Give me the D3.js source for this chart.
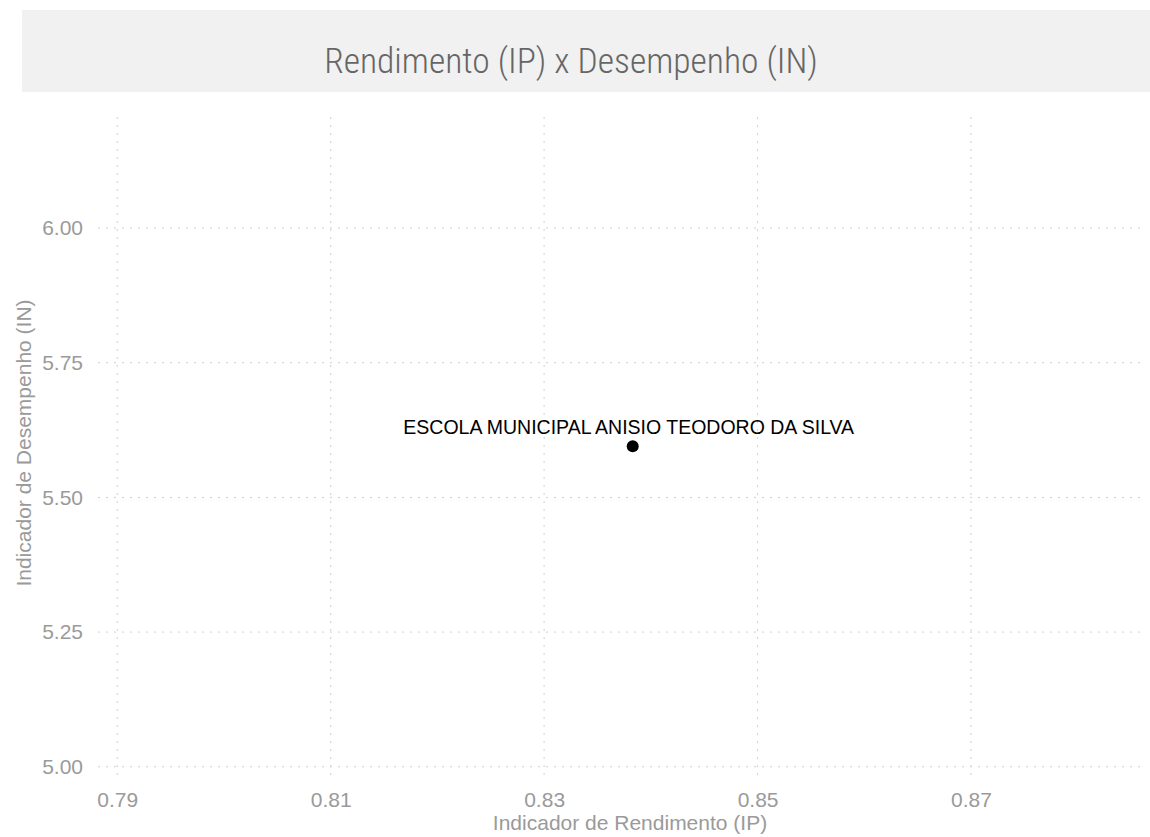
<!DOCTYPE html>
<html><head><meta charset="utf-8">
<script src="https://cdn.jsdelivr.net/npm/d3@7"></script>
<style>body{margin:0;background:#fff;}svg{display:block;}</style>
</head><body>
<script>
const titleText = "Rendimento (IP) x Desempenho (IN)";
const xTitle = "Indicador de Rendimento (IP)";
const yTitle = "Indicador de Desempenho (IN)";
const schools = ["ESCOLA MUNICIPAL ANISIO TEODORO DA SILVA"];
const ipValues = [0.8383];
const inValues = [5.595];
const xTicks = [0.79, 0.81, 0.83, 0.85, 0.87];
const yTicks = [5.00, 5.25, 5.50, 5.75, 6.00];

const W = 1150, H = 837;
const svg = d3.select("body").append("svg").attr("width", W).attr("height", H);

svg.append("rect").attr("x", 22).attr("y", 10).attr("width", W - 22).attr("height", 82).attr("fill", "#f1f1f1");
svg.append("text").attr("x", 571).attr("y", 73).attr("text-anchor", "middle")
  .attr("font-family", "'Roboto Condensed', 'Liberation Sans Narrow', 'Arial Narrow', sans-serif")
  .attr("font-size", 35.5).attr("font-weight", 300).attr("fill", "#666").text(titleText);

const x = d3.scaleLinear().domain([0.7882, 0.8863]).range([98, 1145]);
const y = d3.scaleLinear().domain([4.981, 6.206]).range([777, 117]);

const font = "'Liberation Sans', Arial, Helvetica, sans-serif";

const gx = svg.append("g");
gx.selectAll("line").data(xTicks).join("line")
  .attr("x1", d => x(d)).attr("x2", d => x(d)).attr("y1", 117).attr("y2", 777)
  .attr("stroke", "#d0d0d0").attr("stroke-width", 1).attr("stroke-dasharray", "2,6");
const gy = svg.append("g");
gy.selectAll("line").data(yTicks).join("line")
  .attr("y1", d => y(d)).attr("y2", d => y(d)).attr("x1", 98).attr("x2", 1145)
  .attr("stroke", "#d0d0d0").attr("stroke-width", 1).attr("stroke-dasharray", "2,6");

const xAxis = d3.axisBottom(x).tickValues(xTicks).tickFormat(d3.format(".2f")).tickSize(0).tickPadding(0);
svg.append("g").attr("transform", "translate(0,807)").call(xAxis)
  .call(g => g.select(".domain").remove())
  .call(g => g.selectAll("text").attr("font-family", font).attr("font-size", 21).attr("fill", "#9a9a9a").attr("dy", "0").attr("y", 0));

const yAxis = d3.axisLeft(y).tickValues(yTicks).tickFormat(d3.format(".2f")).tickSize(0).tickPadding(0);
svg.append("g").attr("transform", "translate(83,0)").call(yAxis)
  .call(g => g.select(".domain").remove())
  .call(g => g.selectAll("text").attr("font-family", font).attr("font-size", 21).attr("fill", "#9a9a9a"));

svg.append("text").attr("x", 630).attr("y", 830).attr("text-anchor", "middle")
  .attr("font-family", font).attr("font-size", 21).attr("fill", "#9a9a9a").text(xTitle);
svg.append("text").attr("transform", "translate(31,443) rotate(-90)").attr("text-anchor", "middle")
  .attr("font-family", font).attr("font-size", 21).attr("fill", "#9a9a9a").text(yTitle);

const pts = schools.map((s, i) => ({name: s, ip: ipValues[i], in: inValues[i]}));
svg.selectAll("circle.pt").data(pts).join("circle").attr("class", "pt")
  .attr("cx", d => x(d.ip)).attr("cy", d => y(d.in)).attr("r", 6).attr("fill", "#000");
svg.selectAll("text.lbl").data(pts).join("text").attr("class", "lbl")
  .attr("x", d => x(d.ip) - 4).attr("y", d => y(d.in) - 12).attr("text-anchor", "middle")
  .attr("font-family", font).attr("font-size", 19.5).attr("fill", "#000").text(d => d.name);
</script>
</body></html>
